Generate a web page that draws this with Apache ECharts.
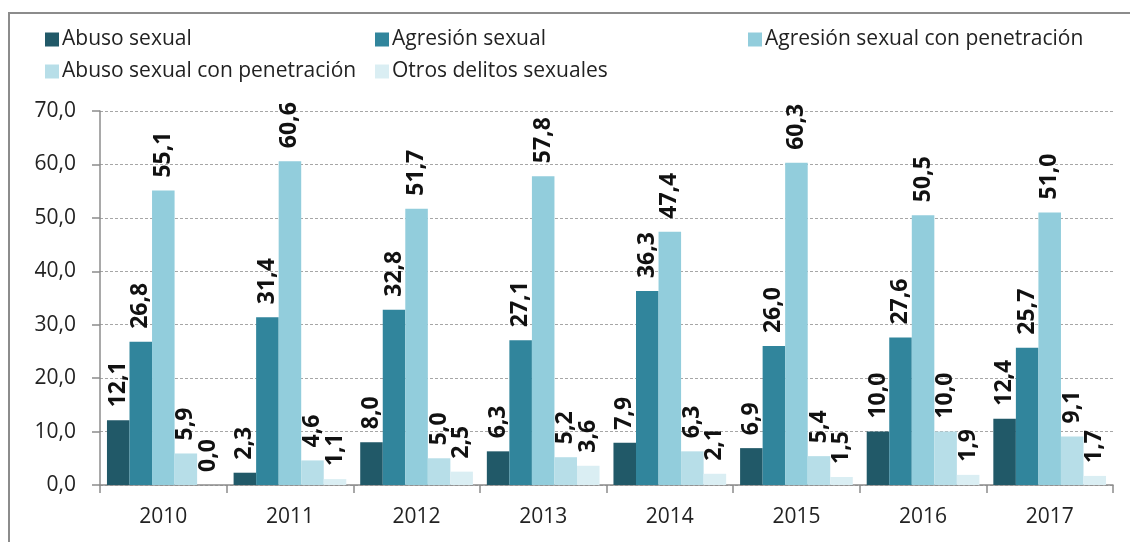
<!DOCTYPE html>
<html>
<head>
<meta charset="utf-8">
<script src="https://cdn.jsdelivr.net/npm/echarts@6.0.0/dist/echarts.min.js"></script>
<style>
  html, body { margin: 0; padding: 0; background: #fff; }
  #chart { width: 1130px; height: 542px; }
</style>
</head>
<body>
<div id="chart"></div>
<script>
/* datos */
const years = ['2010', '2011', '2012', '2013', '2014', '2015', '2016', '2017'];
const seriesNames = [
  'Abuso sexual',
  'Agresión sexual',
  'Agresión sexual con penetración',
  'Abuso sexual con penetración',
  'Otros delitos sexuales'
];
const abusoSexual         = [12.1, 2.3, 8.0, 6.3, 7.9, 6.9, 10.0, 12.4];
const agresionSexual      = [26.8, 31.4, 32.8, 27.1, 36.3, 26.0, 27.6, 25.7];
const agresionPenetracion = [55.1, 60.6, 51.7, 57.8, 47.4, 60.3, 50.5, 51.0];
const abusoPenetracion    = [5.9, 4.6, 5.0, 5.2, 6.3, 5.4, 10.0, 9.1];
const otrosDelitos        = [0.0, 1.1, 2.5, 3.6, 2.1, 1.5, 1.9, 1.7];

const seriesData = [abusoSexual, agresionSexual, agresionPenetracion, abusoPenetracion, otrosDelitos];
const colors = ['#215968', '#31859C', '#92CDDC', '#B7DEE8', '#DAEEF3'];

/* posiciones de la leyenda (3 columnas, 2 filas) */
const legendPos = [
  { left: 40, top: 24 },
  { left: 370, top: 24 },
  { left: 743, top: 24 },
  { left: 40, top: 56 },
  { left: 370, top: 56 }
];

const FONT = 'Open Sans';
const fmt = (v) => v.toFixed(1).replace('.', ',');

const chart = echarts.init(document.getElementById('chart'), null, { renderer: 'canvas' });

const option = {
  animation: false,
  color: colors,
  textStyle: { fontFamily: FONT },
  graphic: [{
    type: 'rect',
    shape: { x: 9, y: 13, width: 1140, height: 560 },
    style: { fill: 'none', stroke: '#8c8c8c', lineWidth: 2 },
    silent: true
  }],
  legend: seriesNames.map((n, i) => ({
    data: [n],
    left: legendPos[i].left,
    top: legendPos[i].top,
    itemWidth: 14,
    itemHeight: 14,
    itemGap: 0,
    icon: 'rect',
    selectedMode: false,
    textStyle: { fontFamily: FONT, fontSize: 21, color: '#222', padding: [0, 0, 0, -2] }
  })),
  grid: { left: 100, right: 17, top: 111, bottom: 57 },
  xAxis: {
    type: 'category',
    data: years,
    axisLine: { lineStyle: { color: '#8c8c8c', width: 1.5 } },
    axisTick: { show: true, length: 8, lineStyle: { color: '#8c8c8c', width: 1.5 } },
    axisLabel: { color: '#222', fontSize: 21, fontFamily: FONT, margin: 22 }
  },
  yAxis: {
    type: 'value',
    min: 0,
    max: 70,
    interval: 10,
    axisLine: { show: true, lineStyle: { color: '#8c8c8c', width: 1.5 } },
    axisTick: { show: true, length: 8, lineStyle: { color: '#8c8c8c', width: 1.5 } },
    axisLabel: { color: '#222', fontSize: 21, fontFamily: FONT, margin: 24, formatter: (v) => fmt(v) },
    splitLine: { lineStyle: { color: '#a6a6a6', type: [3, 2], width: 1 } }
  },
  series: seriesNames.map((n, i) => ({
    name: n,
    type: 'bar',
    data: seriesData[i],
    barGap: '0%',
    barCategoryGap: '11%',
    itemStyle: { color: colors[i] },
    label: {
      show: true,
      position: 'top',
      rotate: 90,
      align: 'left',
      verticalAlign: 'middle',
      distance: 13,
      fontFamily: FONT,
      fontSize: 23,
      fontWeight: 'bold',
      color: '#111',
      formatter: (p) => fmt(p.value)
    }
  }))
};

chart.setOption(option);
</script>
</body>
</html>
